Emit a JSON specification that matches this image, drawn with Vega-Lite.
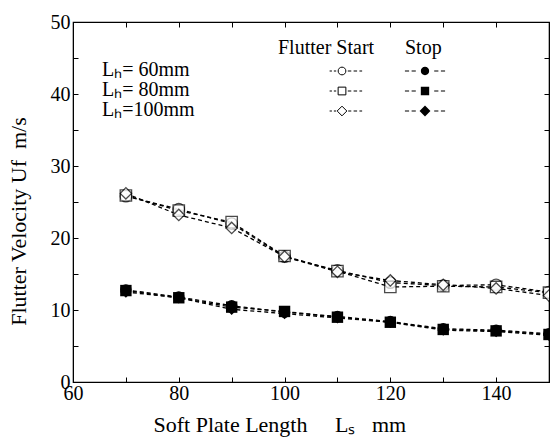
{
  "$schema": "https://vega.github.io/schema/vega-lite/v6.json",
  "width": 476,
  "height": 360,
  "autosize": "none",
  "padding": {"left": 73, "top": 22, "right": 1, "bottom": 57},
  "background": "white",
  "config": {
    "view": {"stroke": "black", "strokeWidth": 1.2},
    "font": "Liberation Serif",
    "axis": {"labelFont": "Liberation Serif", "titleFont": "Liberation Serif", "labelColor": "black", "titleColor": "black", "domainColor": "black", "tickColor": "black", "grid": false, "titleFontWeight": "normal"},
    "legend": {"labelFont": "Liberation Serif", "titleFont": "Liberation Serif", "labelColor": "black", "titleColor": "black", "titleFontWeight": "normal"}
  },
  "data": {
    "values": [
      {"ls": 70, "u": 25.8, "lh": "Lₕ= 60mm", "type": "Start"},
      {"ls": 80, "u": 24.0, "lh": "Lₕ= 60mm", "type": "Start"},
      {"ls": 90, "u": 22.0, "lh": "Lₕ= 60mm", "type": "Start"},
      {"ls": 100, "u": 17.4, "lh": "Lₕ= 60mm", "type": "Start"},
      {"ls": 110, "u": 15.5, "lh": "Lₕ= 60mm", "type": "Start"},
      {"ls": 120, "u": 13.8, "lh": "Lₕ= 60mm", "type": "Start"},
      {"ls": 130, "u": 13.4, "lh": "Lₕ= 60mm", "type": "Start"},
      {"ls": 140, "u": 13.5, "lh": "Lₕ= 60mm", "type": "Start"},
      {"ls": 150, "u": 12.5, "lh": "Lₕ= 60mm", "type": "Start"},
      {"ls": 70, "u": 25.9, "lh": "Lₕ= 80mm", "type": "Start"},
      {"ls": 80, "u": 23.8, "lh": "Lₕ= 80mm", "type": "Start"},
      {"ls": 90, "u": 22.2, "lh": "Lₕ= 80mm", "type": "Start"},
      {"ls": 100, "u": 17.5, "lh": "Lₕ= 80mm", "type": "Start"},
      {"ls": 110, "u": 15.4, "lh": "Lₕ= 80mm", "type": "Start"},
      {"ls": 120, "u": 13.2, "lh": "Lₕ= 80mm", "type": "Start"},
      {"ls": 130, "u": 13.3, "lh": "Lₕ= 80mm", "type": "Start"},
      {"ls": 140, "u": 13.2, "lh": "Lₕ= 80mm", "type": "Start"},
      {"ls": 150, "u": 12.4, "lh": "Lₕ= 80mm", "type": "Start"},
      {"ls": 70, "u": 26.2, "lh": "Lₕ=100mm", "type": "Start"},
      {"ls": 80, "u": 23.2, "lh": "Lₕ=100mm", "type": "Start"},
      {"ls": 90, "u": 21.4, "lh": "Lₕ=100mm", "type": "Start"},
      {"ls": 100, "u": 17.4, "lh": "Lₕ=100mm", "type": "Start"},
      {"ls": 110, "u": 15.3, "lh": "Lₕ=100mm", "type": "Start"},
      {"ls": 120, "u": 14.1, "lh": "Lₕ=100mm", "type": "Start"},
      {"ls": 130, "u": 13.5, "lh": "Lₕ=100mm", "type": "Start"},
      {"ls": 140, "u": 13.0, "lh": "Lₕ=100mm", "type": "Start"},
      {"ls": 150, "u": 12.0, "lh": "Lₕ=100mm", "type": "Start"},
      {"ls": 70, "u": 12.8, "lh": "Lₕ= 60mm", "type": "Stop"},
      {"ls": 80, "u": 11.8, "lh": "Lₕ= 60mm", "type": "Stop"},
      {"ls": 90, "u": 10.6, "lh": "Lₕ= 60mm", "type": "Stop"},
      {"ls": 100, "u": 9.7, "lh": "Lₕ= 60mm", "type": "Stop"},
      {"ls": 110, "u": 9.1, "lh": "Lₕ= 60mm", "type": "Stop"},
      {"ls": 120, "u": 8.4, "lh": "Lₕ= 60mm", "type": "Stop"},
      {"ls": 130, "u": 7.4, "lh": "Lₕ= 60mm", "type": "Stop"},
      {"ls": 140, "u": 7.2, "lh": "Lₕ= 60mm", "type": "Stop"},
      {"ls": 150, "u": 6.7, "lh": "Lₕ= 60mm", "type": "Stop"},
      {"ls": 70, "u": 12.7, "lh": "Lₕ= 80mm", "type": "Stop"},
      {"ls": 80, "u": 11.7, "lh": "Lₕ= 80mm", "type": "Stop"},
      {"ls": 90, "u": 10.4, "lh": "Lₕ= 80mm", "type": "Stop"},
      {"ls": 100, "u": 9.8, "lh": "Lₕ= 80mm", "type": "Stop"},
      {"ls": 110, "u": 9.0, "lh": "Lₕ= 80mm", "type": "Stop"},
      {"ls": 120, "u": 8.3, "lh": "Lₕ= 80mm", "type": "Stop"},
      {"ls": 130, "u": 7.3, "lh": "Lₕ= 80mm", "type": "Stop"},
      {"ls": 140, "u": 7.1, "lh": "Lₕ= 80mm", "type": "Stop"},
      {"ls": 150, "u": 6.6, "lh": "Lₕ= 80mm", "type": "Stop"},
      {"ls": 70, "u": 12.5, "lh": "Lₕ=100mm", "type": "Stop"},
      {"ls": 80, "u": 11.7, "lh": "Lₕ=100mm", "type": "Stop"},
      {"ls": 90, "u": 10.1, "lh": "Lₕ=100mm", "type": "Stop"},
      {"ls": 100, "u": 9.5, "lh": "Lₕ=100mm", "type": "Stop"},
      {"ls": 110, "u": 8.9, "lh": "Lₕ=100mm", "type": "Stop"},
      {"ls": 120, "u": 8.3, "lh": "Lₕ=100mm", "type": "Stop"},
      {"ls": 130, "u": 7.2, "lh": "Lₕ=100mm", "type": "Stop"},
      {"ls": 140, "u": 7.0, "lh": "Lₕ=100mm", "type": "Stop"},
      {"ls": 150, "u": 6.5, "lh": "Lₕ=100mm", "type": "Stop"}
    ]
  },
  "layer": [
    {
      "mark": {"type": "line", "color": "black", "strokeWidth": 1.3, "strokeDash": [4, 3], "clip": true},
      "encoding": {
        "x": {"field": "ls", "type": "quantitative", "scale": {"domain": [60, 150], "nice": false, "zero": false},
          "axis": {"orient": "bottom", "title": "Soft Plate Length\u00a0\u00a0\u00a0\u00a0\u00a0Lₛ\u00a0\u00a0\u00a0mm", "titleFontSize": 22, "titlePadding": 11,
            "titleX": 80, "titleAlign": "left", "titleAnchor": "start",
            "values": [60, 70, 80, 90, 100, 110, 120, 130, 140, 150],
            "labelExpr": "datum.value % 20 == 0 && datum.value < 150 ? datum.label : ''",
            "labelFontSize": 20, "tickSize": -5, "labelPadding": 6, "labelFlush": false, "labelOverlap": false}},
        "y": {"field": "u", "type": "quantitative", "scale": {"domain": [0, 50], "nice": false},
          "axis": {"orient": "left", "title": "Flutter Velocity Uf\u00a0\u00a0m/s", "titleFontSize": 22, "titlePadding": 20, "titleY": 199,
            "values": [0, 5, 10, 15, 20, 25, 30, 35, 40, 45, 50],
            "labelExpr": "datum.value % 10 == 0 ? datum.label : ''",
            "labelFontSize": 20, "tickSize": -5, "labelPadding": 8, "labelFlush": false, "labelOverlap": false}},
        "detail": [{"field": "lh"}, {"field": "type"}]
      }
    },
    {
      "transform": [{"filter": "datum.type == 'Start'"}],
      "mark": {"type": "point", "filled": true, "fill": "white", "stroke": "black", "strokeWidth": 1.3, "size": 130, "clip": true},
      "encoding": {
        "x": {"field": "ls", "type": "quantitative", "axis": {"orient": "top", "title": null, "labels": false, "values": [60, 70, 80, 90, 100, 110, 120, 130, 140, 150], "tickSize": -5}},
        "y": {"field": "u", "type": "quantitative", "axis": {"orient": "right", "title": null, "labels": false, "values": [0, 5, 10, 15, 20, 25, 30, 35, 40, 45, 50], "tickSize": -5}},
        "shape": {"field": "lh", "type": "nominal",
          "scale": {"domain": ["Lₕ= 60mm", "Lₕ= 80mm", "Lₕ=100mm"], "range": ["circle", "square", "diamond"]},
          "legend": null}
      }
    },
    {
      "transform": [{"filter": "datum.type == 'Stop'"}],
      "mark": {"type": "point", "filled": true, "color": "black", "opacity": 1, "size": 130, "clip": true},
      "encoding": {
        "x": {"field": "ls", "type": "quantitative", "axis": null},
        "y": {"field": "u", "type": "quantitative", "axis": null},
        "shape": {"field": "lh", "type": "nominal",
          "scale": {"domain": ["Lₕ= 60mm", "Lₕ= 80mm", "Lₕ=100mm"], "range": ["circle", "square", "diamond"]},
          "legend": null}
      }
    },
    {
      "transform": [{"filter": "datum.type == 'Start'"}],
      "mark": {"type": "point", "filled": false, "color": "black", "opacity": 0, "size": 60},
      "encoding": {
        "x": {"field": "ls", "type": "quantitative", "axis": null},
        "y": {"field": "u", "type": "quantitative", "axis": null},
        "shape": {"field": "lh", "type": "nominal",
          "scale": {"domain": ["Lₕ= 60mm", "Lₕ= 80mm", "Lₕ=100mm"],
            "range": [
              "M-3.2,0H-2.6M-2.1,0H-1.5M-1,0A1,1,0,1,1,1,0A1,1,0,1,1,-1,0ZM1.5,0H2.4M3,0H3.9M4.5,0H5.2",
              "M-3.2,0H-2.6M-2.1,0H-1.5M-1,-1H1V1H-1ZM1.5,0H2.4M3,0H3.9M4.5,0H5.2",
              "M-3.2,0H-2.6M-2.1,0H-1.5M0,-1.25L1.25,0L0,1.25L-1.25,0ZM1.6,0H2.4M3,0H3.9M4.5,0H5.2"]},
          "legend": {"orient": "none", "legendX": 205, "legendY": 16, "title": "Flutter Start", "titleFontSize": 20,
            "titleAnchor": "start", "titleAlign": "left", "titlePadding": 3, "symbolOffset": 54,
            "labelFontSize": 20, "labelOpacity": 0, "labelExpr": "'\u00a0'", "rowPadding": 0,
            "symbolSize": 60, "symbolOpacity": 1, "symbolStrokeWidth": 1, "symbolStrokeColor": "black"}}
      }
    },
    {
      "transform": [{"filter": "datum.type == 'Stop'"}],
      "mark": {"type": "point", "filled": true, "color": "black", "opacity": 0, "size": 70},
      "encoding": {
        "x": {"field": "ls", "type": "quantitative", "axis": null},
        "y": {"field": "u", "type": "quantitative", "axis": null},
        "shape": {"field": "lh", "type": "nominal",
          "scale": {"domain": ["Lₕ= 60mm", "Lₕ= 80mm", "Lₕ=100mm"],
            "range": [
              "M-4.8,-0.13H-3.8V0.13H-4.8ZM-3.2,-0.13H-2.2V0.13H-3.2ZM-1,0A1,1,0,1,1,1,0A1,1,0,1,1,-1,0ZM2.2,-0.13H3.2V0.13H2.2ZM3.8,-0.13H4.8V0.13H3.8Z",
              "M-4.8,-0.13H-3.8V0.13H-4.8ZM-3.2,-0.13H-2.2V0.13H-3.2ZM-1,-1H1V1H-1ZM2.2,-0.13H3.2V0.13H2.2ZM3.8,-0.13H4.8V0.13H3.8Z",
              "M-4.8,-0.13H-3.8V0.13H-4.8ZM-3.2,-0.13H-2.2V0.13H-3.2ZM0,-1.3L1.3,0L0,1.3L-1.3,0ZM2.2,-0.13H3.2V0.13H2.2ZM3.8,-0.13H4.8V0.13H3.8Z"]},
          "legend": {"orient": "none", "legendX": 332, "legendY": 16, "title": "Stop", "titleFontSize": 20,
            "titleAnchor": "start", "titleAlign": "left", "titlePadding": 3, "symbolOffset": 10,
            "labelFontSize": 20, "labelOpacity": 0, "labelExpr": "'\u00a0'", "rowPadding": 0,
            "symbolSize": 70, "symbolOpacity": 1}}
      }
    },
    {
      "transform": [{"filter": "datum.type == 'Start'"}],
      "mark": {"type": "point", "opacity": 0, "size": 4},
      "encoding": {
        "x": {"field": "ls", "type": "quantitative", "axis": null},
        "y": {"field": "u", "type": "quantitative", "axis": null},
        "shape": {"field": "lh", "type": "nominal",
          "scale": {"domain": ["Lₕ= 60mm", "Lₕ= 80mm", "Lₕ=100mm"], "range": ["circle", "square", "diamond"]},
          "legend": {"orient": "none", "legendX": 9, "legendY": 38, "title": null,
            "labelFontSize": 20, "labelOffset": 0, "rowPadding": 0,
            "symbolSize": 4, "symbolOpacity": 0}}
      }
    }
  ],
  "resolve": {"scale": {"shape": "independent"}, "axis": {"x": "independent", "y": "independent"}}
}
